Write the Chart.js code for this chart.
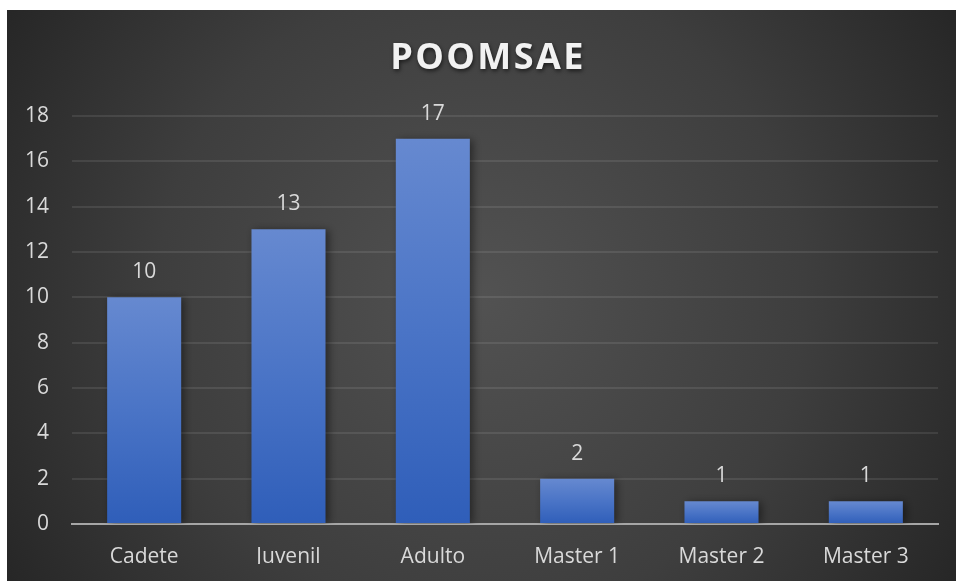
<!DOCTYPE html>
<html>
<head>
<meta charset="utf-8">
<script src="https://cdn.jsdelivr.net/npm/chart.js@4.4.1/dist/chart.umd.min.js"></script>
<style>
  html, body { margin: 0; padding: 0; background: #ffffff; width: 956px; height: 581px; overflow: hidden; }
  #wrap { position: absolute; left: 7px; top: 10px; width: 949px; height: 571px; }
</style>
</head>
<body>
<div id="wrap"><canvas id="c" width="949" height="571"></canvas></div>
<script>
const chartTitle = "POOMSAE";
const categories = ["Cadete", "Juvenil", "Adulto", "Master 1", "Master 2", "Master 3"];
const values = [10, 13, 17, 2, 1, 1];
const yTicks = [0, 2, 4, 6, 8, 10, 12, 14, 16, 18];

const FONT = "'Open Sans', 'Liberation Sans', sans-serif";
const TEXT = "#d9d9d9";

const bgPlugin = {
  id: "bg",
  beforeDraw(chart) {
    const { ctx, width, height } = chart;
    ctx.save();
    const g = ctx.createRadialGradient(width * 0.5, height * 0.5, 0, width * 0.5, height * 0.5, width * 0.62);
    g.addColorStop(0, "#525252");
    g.addColorStop(0.55, "#3e3e3e");
    g.addColorStop(1, "#232323");
    ctx.fillStyle = g;
    ctx.fillRect(0, 0, width, height);
    // title
    ctx.font = "bold 36px " + FONT;
    ctx.textAlign = "center";
    ctx.textBaseline = "middle";
    try { ctx.letterSpacing = "2.4px"; } catch (e) {}
    ctx.shadowColor = "rgba(0,0,0,0.6)";
    ctx.shadowBlur = 4;
    ctx.shadowOffsetX = 1;
    ctx.shadowOffsetY = 2;
    ctx.fillStyle = "#f2f2f2";
    ctx.fillText(chartTitle, 481, 49);
    ctx.restore();
  }
};

const shadowPlugin = {
  id: "barShadow",
  beforeDatasetsDraw(chart) {
    const ctx = chart.ctx;
    ctx.save();
    ctx.shadowColor = "rgba(0,0,0,0.45)";
    ctx.shadowBlur = 8;
    ctx.shadowOffsetX = 3;
    ctx.shadowOffsetY = 1;
  },
  afterDatasetsDraw(chart) {
    const ctx = chart.ctx;
    ctx.restore();
    const meta = chart.getDatasetMeta(0);
    ctx.save();
    ctx.font = "21px " + FONT;
    ctx.fillStyle = TEXT;
    ctx.textAlign = "center";
    ctx.textBaseline = "middle";
    meta.data.forEach((bar, i) => {
      ctx.fillText(String(chart.data.datasets[0].data[i]), bar.x, bar.y - 25);
    });
    ctx.restore();
  }
};

function barGradient(context) {
  const chart = context.chart;
  const y = chart.scales && chart.scales.y;
  if (!y || !chart.chartArea || context.type !== "data") return "#4a76c9";
  const v = context.parsed ? context.parsed.y : context.raw;
  const top = y.getPixelForValue(v);
  const bottom = y.getPixelForValue(0);
  if (!isFinite(top) || !isFinite(bottom) || top === bottom) return "#4a76c9";
  const g = chart.ctx.createLinearGradient(0, top, 0, bottom);
  g.addColorStop(0, "#6689d0");
  g.addColorStop(0.5, "#4a74c6");
  g.addColorStop(1, "#2f5eb9");
  return g;
}

new Chart(document.getElementById("c"), {
  type: "bar",
  data: {
    labels: categories,
    datasets: [{
      data: values,
      backgroundColor: barGradient,
      borderWidth: 0,
      categoryPercentage: 1.0,
      barPercentage: 0.513
    }]
  },
  options: {
    responsive: false,
    animation: false,
    devicePixelRatio: 1,
    layout: { padding: { top: 106, right: 18, left: 0, bottom: 17 } },
    plugins: { legend: { display: false }, title: { display: false }, tooltip: { enabled: false } },
    scales: {
      x: {
        grid: { display: false, drawTicks: false },
        border: { display: true, color: "#a6a6a6", width: 2 },
        ticks: { color: TEXT, font: { family: FONT, size: 21 }, padding: 20, maxRotation: 0 },
        afterFit(axis) { axis.height = 40; }
      },
      y: {
        min: 0, max: 18,
        afterBuildTicks(axis) { axis.ticks = yTicks.map(v => ({ value: v })); },
        grid: { color: "rgba(255,255,255,0.09)", lineWidth: 2, drawTicks: false },
        border: { display: false },
        ticks: { color: TEXT, font: { family: FONT, size: 21 }, padding: 23 },
        afterFit(axis) { axis.width = 65; }
      }
    }
  },
  plugins: [bgPlugin, shadowPlugin]
});
</script>
</body>
</html>
